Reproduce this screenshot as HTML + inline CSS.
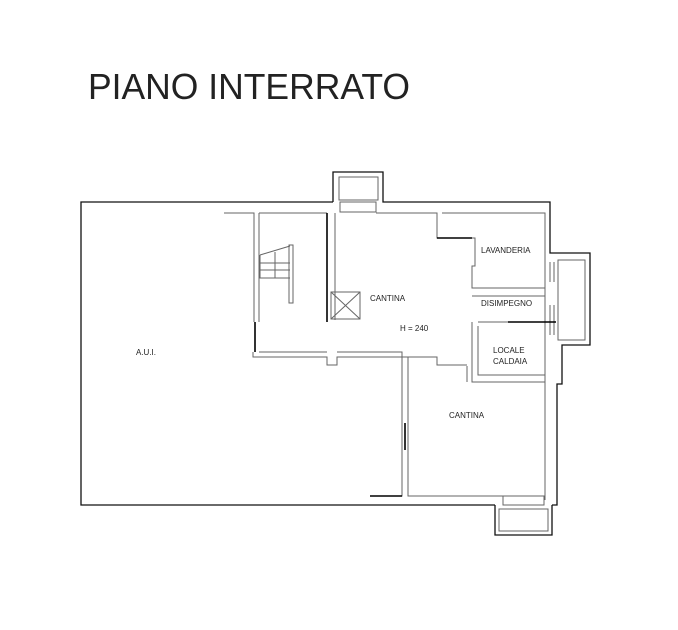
<!DOCTYPE html>
<html><head><meta charset="utf-8"><style>
html,body{margin:0;padding:0;background:#fff;width:678px;height:630px;overflow:hidden}
svg{display:block}
text{font-family:"Liberation Sans",sans-serif;fill:#222}
</style></head><body>
<svg width="678" height="630" viewBox="0 0 678 630" xmlns="http://www.w3.org/2000/svg">
<text x="88" y="99" font-size="36" textLength="322" lengthAdjust="spacingAndGlyphs" fill="#111">PIANO INTERRATO</text>
<g fill="none" stroke="#111" stroke-width="1.3">
<!-- outer -->
<polyline points="333,202 81,202 81,505 495,505"/>
<polyline points="333,202 333,172 383,172 383,202 550,202 550,253 590,253 590,345 562,345 562,384 557,384 557,505 552,505"/>
<polyline points="495,505 495,535 552,535 552,505"/>
</g>
<g fill="none" stroke="#666" stroke-width="1">
<!-- top box -->
<rect x="339" y="177" width="39" height="23"/>
<rect x="340" y="202" width="36" height="10"/>
<!-- bottom box -->
<rect x="499" y="509" width="49" height="22"/>
<rect x="503" y="496" width="41" height="9"/>
<!-- right box -->
<rect x="558" y="260" width="27" height="80"/>
<!-- inner top line -->
<polyline points="224,213 254,213 254,322"/>
<polyline points="259,213 259,322"/>
<polyline points="259,213 327,213"/>
<polyline points="335,213 335,320"/>
<polyline points="376,213 437,213 437,238 475,238 475,266 472,266 472,288 545,288"/>
<polyline points="442,213 545,213 545,500"/>
<polyline points="472,296 545,296"/>
<polyline points="472,322 472,382 545,382"/>
<polyline points="478,326 478,375 545,375 545,330"/>
<polyline points="478,322 546,322"/>
<!-- middle walls -->
<polyline points="253,352 253,357 327,357 327,365 337,365 337,357 437,357 437,365 442,365 442,365 467,365"/>
<polyline points="259,352 327,352"/>
<polyline points="337,352 402,352 402,496 370,496"/>
<polyline points="408,357 408,496 545,496"/>
<polyline points="467,382 467,366"/>
<!-- elevator -->
<rect x="331" y="292" width="29" height="27"/>
<line x1="331" y1="292" x2="360" y2="319"/>
<line x1="360" y1="292" x2="331" y2="319"/>
<!-- stairs -->
<polyline points="260,255 260,278 290,278"/>
<line x1="260" y1="255" x2="290" y2="246"/>
<line x1="260" y1="263" x2="290" y2="263"/>
<line x1="260" y1="270" x2="290" y2="270"/>
<line x1="275" y1="252" x2="275" y2="278"/>
<rect x="289" y="245" width="4" height="58"/>
<!-- window marks right -->
<line x1="550" y1="262" x2="550" y2="282"/>
<line x1="554" y1="262" x2="554" y2="282"/>
<line x1="550" y1="305" x2="550" y2="335"/>
<line x1="554" y1="305" x2="554" y2="335"/>
</g>
<g stroke="#000" stroke-width="1.6" fill="none">
<line x1="327" y1="213" x2="327" y2="322"/>
<line x1="255" y1="322" x2="255" y2="352"/>
<line x1="405" y1="423" x2="405" y2="450"/>
<line x1="370" y1="496" x2="402" y2="496"/>
<line x1="508" y1="322" x2="556" y2="322"/>
<line x1="437" y1="238" x2="472" y2="238"/>
</g>
<g font-size="8">
<text x="136" y="355">A.U.I.</text>
<text x="370" y="301">CANTINA</text>
<text x="400" y="331">H = 240</text>
<text x="481" y="253">LAVANDERIA</text>
<text x="481" y="306">DISIMPEGNO</text>
<text x="493" y="353">LOCALE</text>
<text x="493" y="364">CALDAIA</text>
<text x="449" y="418">CANTINA</text>
</g>
</svg>
</body></html>
